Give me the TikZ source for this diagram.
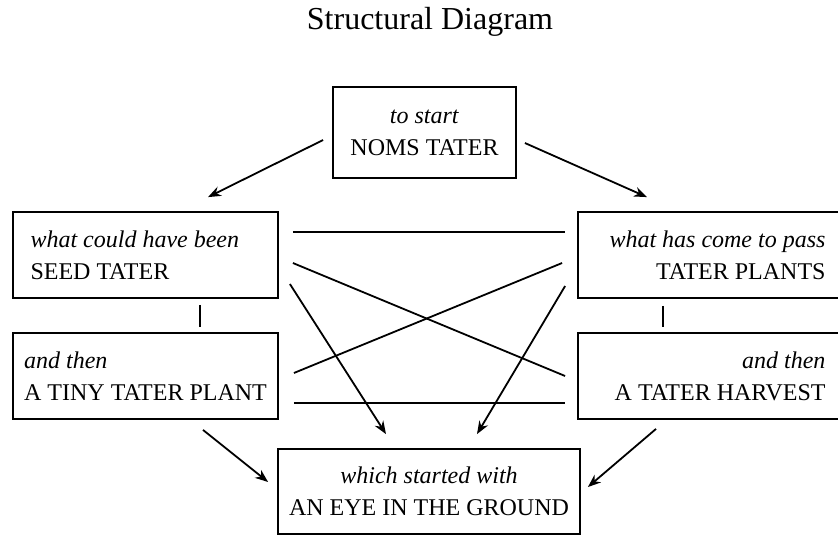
\documentclass[tikz,border=0pt]{standalone}
\usepackage{fontspec}
\setmainfont{Liberation Serif}
\usetikzlibrary{arrows.meta}

\begin{document}
\begin{tikzpicture}[
    x=0.5pt, y=-0.5pt,
    >={Stealth[length=6.5pt,width=5pt]},
    box/.style={
        draw,
        line width=0.9pt,
        minimum width=132.5pt,
        minimum height=43pt,
        inner sep=0pt,
        font=\fontsize{12}{16}\selectfont
    },
    link/.style={line width=0.9pt}
]
\useasboundingbox (0,0) rectangle (838,536);

% ---------------- NODES ----------------
\node                                               (title)   at (430,22)      {\fontsize{16}{18}\selectfont Structural Diagram};
\node[box, align=center, minimum width=91.5pt, minimum height=45.5pt]
                                                    (start)   at (424.5,132.5) {\textit{to start}\\ NOMS TATER};
\node[box, align=flush left,  text width=115pt]     (seed)    at (145.5,255)   {\textit{what could have been}\\ SEED TATER};
\node[box, align=left]                              (tiny)    at (145.5,376)   {\textit{and then}\\ A TINY TATER PLANT};
\node[box, align=flush right, text width=115pt]     (plants)  at (710.5,255)   {\textit{what has come to pass}\\ TATER PLANTS};
\node[box, align=flush right, text width=115pt]     (harvest) at (710.5,376)   {\textit{and then}\\ A TATER HARVEST};
\node[box, align=center, minimum width=151pt, minimum height=42.5pt]
                                                    (eye)     at (429,491.5)   {\textit{which started with}\\ AN EYE IN THE GROUND};

% From the start
\draw[link, ->] ([shift={(-9,7.5)}]start.west)  -- ([shift={(62.5,-14)}]seed.north);
\draw[link, ->] ([shift={(8,10.5)}]start.east)  -- ([shift={(-63.5,-14)}]plants.north);

% Ticks
\draw[link] ([shift={(54.5,6)}]seed.south)     -- ([shift={(54.5,-5)}]tiny.north);
\draw[link] ([shift={(-47.5,7)}]plants.south)  -- ([shift={(-47.5,-5)}]harvest.north);

% Cross links
\draw[link] ([shift={(14,-23)}]seed.east)      -- ([shift={(-12,-23)}]plants.west);
\draw[link] ([shift={(14,8)}]seed.east)        -- ([shift={(-12,0)}]harvest.west);
\draw[link] ([shift={(15,-3)}]tiny.east)       -- ([shift={(-15,8)}]plants.west);
\draw[link] ([shift={(15,27)}]tiny.east)       -- ([shift={(-12,27)}]harvest.west);

% Into the ground
\draw[link, ->] ([shift={(11,29)}]seed.east)     -- ([shift={(-43,-14)}]eye.north);
\draw[link, ->] ([shift={(-12,31)}]plants.west)  -- ([shift={(48,-14)}]eye.north);
\draw[link, ->] ([shift={(57.5,10)}]tiny.south)  -- ([shift={(-9,-9.5)}]eye.west);
\draw[link, ->] ([shift={(-54.5,9)}]harvest.south) -- ([shift={(7,-4.5)}]eye.east);

\end{tikzpicture}
\end{document}
